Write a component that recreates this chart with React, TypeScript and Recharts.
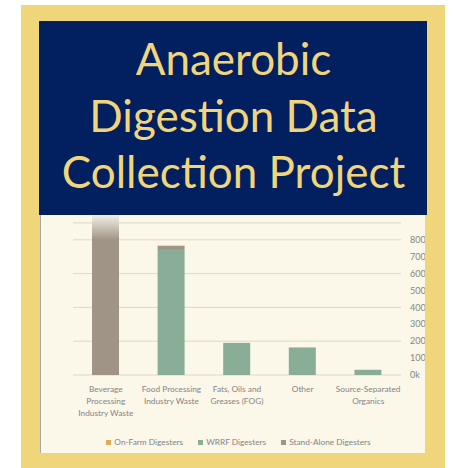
import React from "react";
import { BarChart, Bar, XAxis, YAxis, CartesianGrid, Legend } from "recharts";

const titleLines = ["Anaerobic", "Digestion Data", "Collection Project"];
const categories = [
  "Beverage\nProcessing\nIndustry Waste",
  "Food Processing\nIndustry Waste",
  "Fats, Oils and\nGreases (FOG)",
  "Other",
  "Source-Separated\nOrganics",
];
const onFarm = [0, 0, 0, 0, 0];
const wrrf = [0, 740000, 190000, 163000, 31000];
const standAlone = [1200000, 25000, 0, 0, 0];
const seriesNames = ["On-Farm Digesters", "WRRF Digesters", "Stand-Alone Digesters"];
const seriesColors = ["#dcad55", "#8aad97", "#a09486"];
const yTicks = [0, 100000, 200000, 300000, 400000, 500000, 600000, 700000, 800000, 900000, 1000000];
const edgeTicks = [0, 1, 2, 3, 4, 5];

const data = categories.map((c, i) => ({
  name: c,
  onFarm: onFarm[i],
  wrrf: wrrf[i],
  standAlone: standAlone[i],
}));

const FONT = "Lato, 'Open Sans', sans-serif";
const GRAY = "#858585";

const XTick = (props: any) => {
  const { x, y, payload } = props;
  const lines = String(payload.value).split("\n");
  return (
    <text x={x} y={y} textAnchor="middle" fill={GRAY} fontSize={8.3} fontFamily={FONT}>
      {lines.map((l, i) => (
        <tspan key={i} x={x} dy={i === 0 ? 10.5 : 12.2}>
          {l}
        </tspan>
      ))}
    </text>
  );
};

const renderLegend = () => (
  <div
    style={{
      display: "flex",
      justifyContent: "center",
      alignItems: "center",
      height: 14,
      fontSize: 8.3,
      color: GRAY,
      fontFamily: FONT,
    }}
  >
    {seriesNames.map((name, i) => (
      <span key={i} style={{ display: "flex", alignItems: "center", marginRight: i < seriesNames.length - 1 ? 15 : 0 }}>
        <span
          style={{
            width: 5,
            height: 5,
            background: seriesColors[i],
            marginRight: 3,
            display: "inline-block",
          }}
        />
        {name}
      </span>
    ))}
  </div>
);

export default function App() {
  return (
    <div style={{ position: "absolute", left: 0, top: 0, width: 457, height: 468, background: "#ffffff", overflow: "hidden" }}>
      <div style={{ position: "absolute", left: 21, top: 5, width: 424, height: 463, background: "#f0d67a" }} />
      <div
        style={{
          position: "absolute",
          left: 40,
          top: 215,
          width: 385,
          height: 238,
          background: "#fbf7e9",
          overflow: "hidden",
        }}
      >
        <div style={{ position: "absolute", left: 0, top: -30 }}>
          <BarChart width={401} height={268} data={data} margin={{ top: 21, right: 0, left: 33, bottom: 4 }}>
            <defs>
              <linearGradient id="fade" x1="0" y1="30" x2="0" y2="55" gradientUnits="userSpaceOnUse">
                <stop offset="0" stopColor="#f2efe8" />
                <stop offset="1" stopColor="#a09486" />
              </linearGradient>
            </defs>
            <CartesianGrid vertical={false} stroke="#dcd8ca" />
            <XAxis
              xAxisId="edges"
              type="number"
              domain={[0, 5]}
              ticks={edgeTicks}
              tick={false}
              tickSize={4}
              height={0}
              stroke="#b5b5b5"
              allowDataOverflow
            />
            <XAxis
              dataKey="name"
              interval={0}
              axisLine={false}
              tickLine={false}
              tickMargin={0}
              height={60}
              tick={<XTick />}
            />
            <YAxis
              orientation="right"
              domain={[0, 1000000]}
              ticks={yTicks}
              allowDataOverflow
              axisLine={false}
              tickLine={false}
              tickSize={0}
              tickMargin={9}
              width={40}
              tick={{ fill: GRAY, fontSize: 9, fontFamily: FONT }}
              tickFormatter={(v: number) => (v >= 900000 ? "" : `${v / 1000}k`)}
            />
            <Legend content={renderLegend} verticalAlign="bottom" height={14} wrapperStyle={{ left: 0, width: 397 }} />
            <Bar dataKey="onFarm" name={seriesNames[0]} stackId="a" fill={seriesColors[0]} barSize={27} isAnimationActive={false} />
            <Bar dataKey="wrrf" name={seriesNames[1]} stackId="a" fill={seriesColors[1]} barSize={27} isAnimationActive={false} />
            <Bar dataKey="standAlone" name={seriesNames[2]} stackId="a" fill="url(#fade)" barSize={27} isAnimationActive={false} />
          </BarChart>
        </div>
        <div style={{ position: "absolute", left: 0, top: 0, width: 1, height: 238, background: "#a8a8a8" }} />
      </div>
      <svg style={{ position: "absolute", left: 39, top: 21 }} width={388} height={194}>
        <rect x={0} y={0} width={388} height={194} fill="#02205f" />
        {titleLines.map((t, i) => (
          <text
            key={i}
            x={194.5}
            y={54 + i * 56.7}
            textAnchor="middle"
            fill="#f1d57d"
            fontSize={44}
            fontFamily={FONT}
          >
            {t}
          </text>
        ))}
      </svg>
    </div>
  );
}
